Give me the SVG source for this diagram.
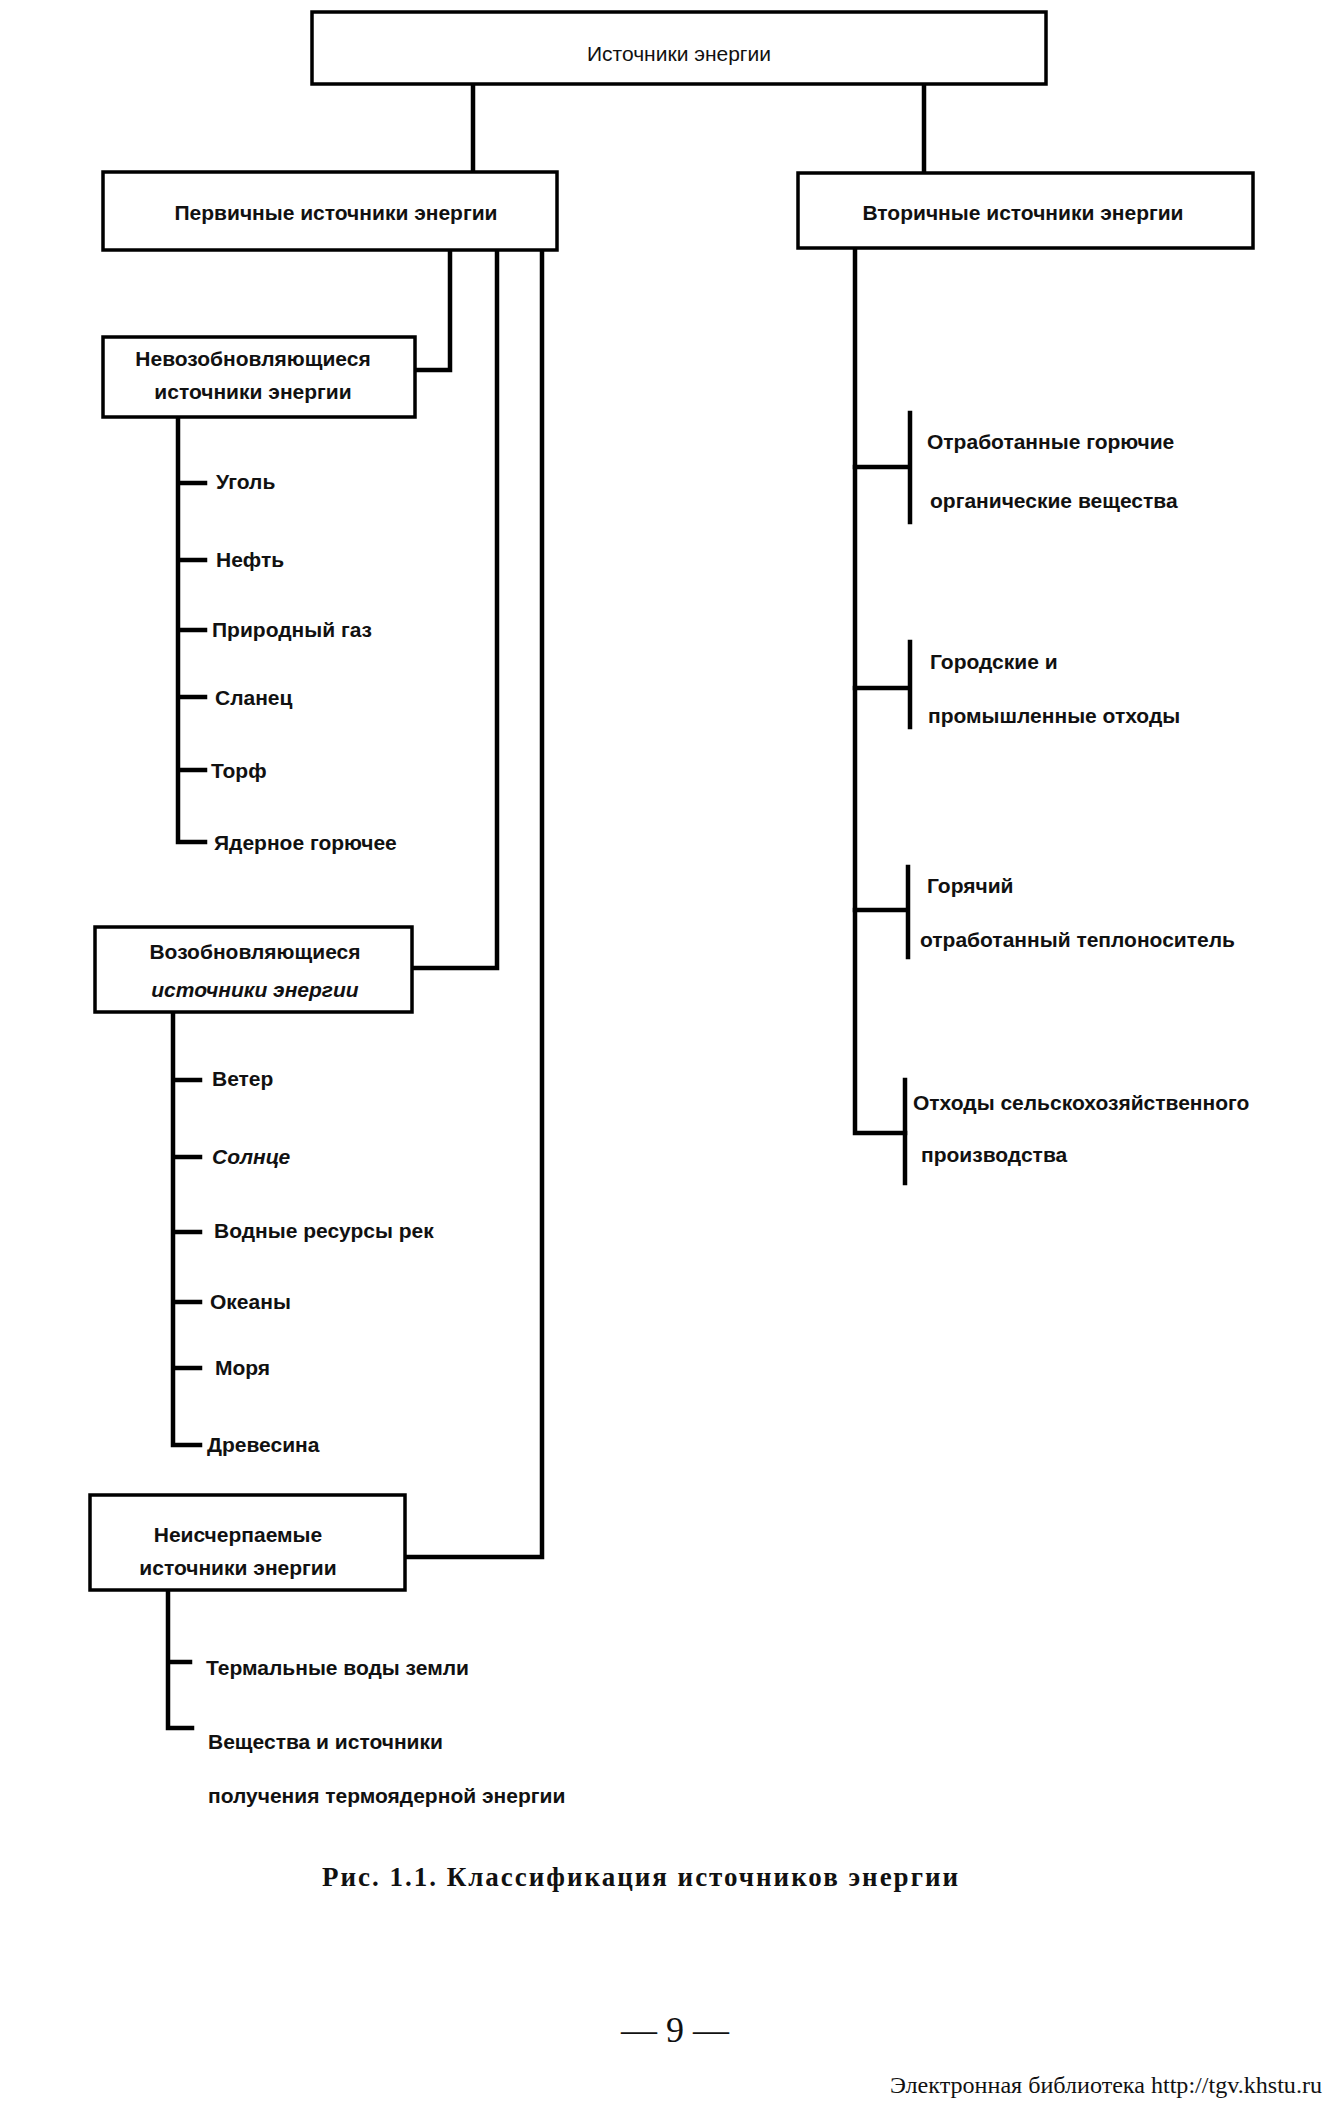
<svg xmlns="http://www.w3.org/2000/svg" width="1333" height="2104" viewBox="0 0 1333 2104">
<style>
.box{fill:#fff;stroke:#000;stroke-width:3.5}
.ln{fill:none;stroke:#000;stroke-width:4.5;stroke-linecap:square;stroke-linejoin:miter}
.t{font-family:"Liberation Sans",Arial,sans-serif;font-weight:bold;font-size:21px;fill:#111}
.c{text-anchor:middle}
.r{font-weight:normal}
.i{font-style:italic}
.s{font-family:"Liberation Serif","Times New Roman",serif;fill:#111}
</style>
<rect width="1333" height="2104" fill="#fff"/>
<g id="connectors">
<path class="ln" d="M473 84V172M924 84V173"/>
<path class="ln" d="M450 250V370H415M497 250V968H412M542 250V1557H405"/>
<path class="ln" d="M178 417V842M178 483H205M178 560H205M178 630H205M178 697H205M178 770H205M178 842H205"/>
<path class="ln" d="M173 1012V1445M173 1080H200M173 1157H200M173 1232H200M173 1302H200M173 1368H200M173 1445H200"/>
<path class="ln" d="M168 1590V1728M168 1662H190M168 1728H192"/>
<path class="ln" d="M855 248V1133H905"/>
<path class="ln" d="M855 467H910M910 413V522"/>
<path class="ln" d="M855 688H910M910 642V727"/>
<path class="ln" d="M855 910H908M908 867V957"/>
<path class="ln" d="M905 1080V1183"/>
</g>
<g id="n-root"><rect class="box" x="312" y="12" width="734" height="72"/><text class="t c r" x="679" y="61" font-size="22">Источники энергии</text></g>
<g id="n-primary"><rect class="box" x="103" y="172" width="454" height="78"/><text class="t c" x="336" y="220">Первичные источники энергии</text></g>
<g id="n-secondary"><rect class="box" x="798" y="173" width="455" height="75"/><text class="t c" x="1023" y="220">Вторичные источники энергии</text></g>
<g id="n-nonrenew"><rect class="box" x="103" y="337" width="312" height="80"/><text class="t c" x="253" y="366" font-size="20">Невозобновляющиеся</text><text class="t c" x="253" y="399" font-size="20">источники энергии</text></g>
<g id="n-renew"><rect class="box" x="95" y="927" width="317" height="85"/><text class="t c" x="255" y="959" font-size="20">Возобновляющиеся</text><text class="t c i" x="255" y="997" font-size="20">источники энергии</text></g>
<g id="n-inexh"><rect class="box" x="90" y="1495" width="315" height="95"/><text class="t c" x="238" y="1542" font-size="20">Неисчерпаемые</text><text class="t c" x="238" y="1575" font-size="20">источники энергии</text></g>
<g id="n-coal"><text class="t" x="216" y="489">Уголь</text></g>
<g id="n-oil"><text class="t" x="216" y="567">Нефть</text></g>
<g id="n-gas"><text class="t" x="212" y="637">Природный газ</text></g>
<g id="n-shale"><text class="t" x="215" y="705">Сланец</text></g>
<g id="n-peat"><text class="t" x="211" y="778">Торф</text></g>
<g id="n-nuclear"><text class="t" x="214" y="850">Ядерное горючее</text></g>
<g id="n-wind"><text class="t" x="212" y="1086">Ветер</text></g>
<g id="n-sun"><text class="t i" x="212" y="1164">Солнце</text></g>
<g id="n-rivers"><text class="t" x="214" y="1238">Водные ресурсы рек</text></g>
<g id="n-oceans"><text class="t" x="210" y="1309">Океаны</text></g>
<g id="n-seas"><text class="t" x="215" y="1375">Моря</text></g>
<g id="n-wood"><text class="t" x="207" y="1452">Древесина</text></g>
<g id="n-thermal"><text class="t" x="206" y="1675">Термальные воды земли</text></g>
<g id="n-fusion"><text class="t" x="208" y="1749">Вещества и источники</text><text class="t" x="208" y="1803">получения термоядерной энергии</text></g>
<g id="n-spentfuel"><text class="t" x="927" y="449">Отработанные горючие</text><text class="t" x="930" y="508">органические вещества</text></g>
<g id="n-waste"><text class="t" x="930" y="669">Городские и</text><text class="t" x="928" y="723">промышленные отходы</text></g>
<g id="n-hot"><text class="t" x="927" y="893">Горячий</text><text class="t" x="920" y="947">отработанный теплоноситель</text></g>
<g id="n-agri"><text class="t" x="913" y="1110">Отходы сельскохозяйственного</text><text class="t" x="921" y="1162">производства</text></g>
<text class="s" x="322" y="1886" font-size="27" font-weight="bold" textLength="636" lengthAdjust="spacing">Рис. 1.1. Классификация источников энергии</text>
<text class="s" x="675" y="2042" font-size="36" text-anchor="middle">— 9 —</text>
<text class="s" x="890" y="2093" font-size="24" textLength="432" lengthAdjust="spacingAndGlyphs">Электронная библиотека http://tgv.khstu.ru</text>
</svg>
